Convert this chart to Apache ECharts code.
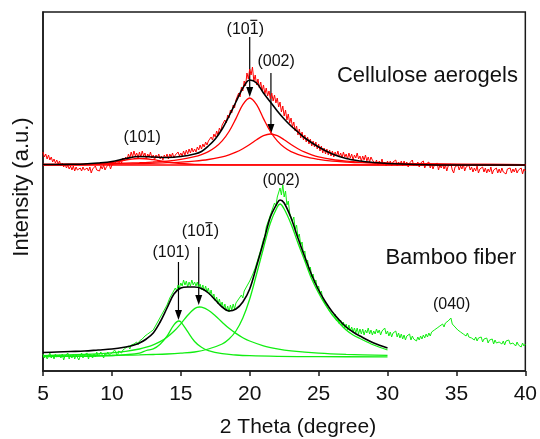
<!DOCTYPE html>
<html>
<head>
<meta charset="utf-8">
<script src="https://cdn.jsdelivr.net/npm/echarts@6/dist/echarts.min.js"></script>
<style>
  html, body { margin: 0; padding: 0; background: #fff; }
  #chart { width: 540px; height: 439px; }
</style>
</head>
<body>
<div id="chart"></div>
<script>
// ---- X axis (2θ, degree) ----
const xTicks = [5, 10, 15, 20, 25, 30, 35, 40];

// ---- Measured patterns: intensity every 0.1° from 5° to 40° ----
const rawStart = 5;
const rawStep = 0.1;

const aerogelRaw = [
  219,214,217,212,216,211,214,209,212,208,211,
  207,210,205,208,204,207,203,206,202,205,
  201,205,200,204,201,199,203,200,204,201,
  199,203,200,204,198,202,200,205,201,203,
  200,205,202,206,201,204,203,207,202,206,
  204,208,206,210,207,211,208,213,210,214,
  211,217,213,219,214,220,215,218,213,219,
  214,220,215,218,212,217,214,219,213,216,
  211,216,213,217,212,215,211,216,213,217,
  212,217,214,218,213,216,214,219,215,218,
  215,220,216,221,217,222,218,223,219,222,
  219,224,221,226,222,227,224,229,226,230,
  228,234,231,237,234,240,236,243,240,246,
  244,251,248,256,253,261,258,266,263,271,
  269,278,274,284,280,290,285,298,292,302,
  296,304,290,296,286,292,283,289,280,286,
  277,283,275,280,272,278,270,276,268,273,
  264,269,259,265,255,261,251,257,248,253,
  244,249,240,245,236,242,233,239,231,236,
  229,234,227,232,225,230,224,229,222,227,
  220,225,218,223,217,222,216,221,215,220,
  214,219,215,220,214,218,213,219,214,217,
  212,218,213,217,211,216,213,218,212,215,
  210,215,211,216,210,214,209,214,211,213,
  207,211,206,210,207,212,206,209,205,210,
  206,210,205,209,207,211,205,209,206,210,
  205,210,206,209,204,208,206,211,205,208,
  205,209,204,208,206,210,203,207,205,209,
  203,207,202,206,204,208,201,206,203,207,
  202,206,200,205,203,207,201,198,204,202,
  206,201,205,202,207,200,204,203,206,201,
  204,199,203,200,205,198,202,200,204,199,
  203,198,202,199,204,197,201,199,203,198,
  202,198,203,199,201,197,202,200,203,198,
  202,199,203,198,201,200,203,197,202,200
];

const bambooRaw = [
  17,13,16,12,15,18,13,16,12,17,14,
  12,16,13,17,11,15,14,18,12,16,
  13,17,12,16,14,11,15,18,13,16,
  14,18,12,17,15,13,17,14,19,15,
  14,19,16,13,18,15,19,16,14,18,
  17,21,18,15,20,22,18,21,19,23,
  21,25,22,26,24,27,25,29,26,30,
  29,32,30,35,33,37,35,39,37,41,
  42,46,45,51,50,56,55,61,60,66,
  67,73,71,78,76,83,80,86,83,88,
  85,91,86,90,84,89,85,91,86,89,
  85,89,83,87,81,86,80,85,79,83,
  76,81,73,77,70,74,67,72,65,69,
  62,67,60,65,59,66,61,67,62,68,
  66,72,70,76,73,80,78,85,83,90,
  88,96,95,103,103,112,112,121,122,132,
  135,144,143,152,152,160,159,168,165,174,
  172,183,176,186,174,180,166,170,158,160,
  150,154,142,146,134,137,126,129,117,120,
  108,111,101,104,94,97,88,91,82,85,
  77,80,72,74,67,69,62,64,58,60,
  54,57,50,53,47,51,45,49,43,47,
  41,46,40,44,39,43,38,43,37,42,
  37,42,36,41,38,43,37,41,36,40,
  37,42,38,41,36,40,38,43,37,40,
  35,39,34,38,36,40,34,38,33,37,
  32,36,31,35,33,37,31,35,32,34,
  30,34,31,35,32,36,33,37,34,38,
  35,39,37,41,39,43,41,45,43,47,
  44,48,46,50,48,53,47,49,44,45,
  41,43,39,41,37,39,35,38,34,36,
  33,35,31,34,30,33,31,34,29,32,
  30,33,28,31,29,32,27,31,28,30,
  29,31,27,30,26,30,28,31,27,29,
  28,30,25,29,26,28,24,28,25,27
];

// ---- Cellulose aerogels: peak fit ----
const aerogelFit = [
  [5,206.5],[6,206.5],[7,206.7],[8,207],[9,208],[10,209.5],[11,212.5],[12,214.5],
  [13,214],[14,213.5],[15,214.5],[16,217],[16.5,219.5],[17,225],[17.5,232],[18,242],
  [18.5,255],[19,269],[19.5,283],[20,291],[20.5,288],[21,278],[21.5,269],[22,260],
  [22.5,252],[23,245],[23.5,239],[24,233],[25,224],[26,217],[27,212.5],[28,210],
  [29,208.5],[30,207.5],[32,206.5],[35,206],[40,206]
];
const aerogelBase = [[5,206],[40,206]];
const aerogelPeak101 = [
  [5,206],[8,206.2],[9,206.8],[10,208.5],[11,211],[12,212.5],[13,211.3],[14,209],
  [15,207.5],[16,206.6],[18,206.1],[40,206]
];
const aerogelPeak10m1 = [
  [5,206.7],[8,207],[10,207.5],[12,208.3],[13,209],[14,209.9],[15,211.6],[16,214.3],
  [16.5,216.4],[17,219.4],[17.5,223.7],[18,230.1],[18.5,239.5],[19,252.4],[19.5,266.3],
  [20,273],[20.5,266.3],[21,252.4],[21.5,239.5],[22,230.1],[22.5,223.7],[23,219.4],
  [24,214.3],[25,211.6],[26,209.9],[27,209],[28,208.3],[30,207.5],[33,207],[35,206.7],[40,206.4]
];
const aerogelPeak002 = [
  [5,206.5],[8,206.7],[10,207],[12,207.4],[14,208.3],[15,208.9],[16,209.9],[17,211.5],
  [18,214.2],[18.5,216.2],[19,218.8],[19.5,222.3],[20,226.5],[20.5,231.3],[21,235.3],
  [21.5,237],[22,235.3],[22.5,231.3],[23,226.5],[23.5,222.3],[24,218.8],[24.5,216.2],
  [25,214.2],[26,211.5],[27,209.9],[28,208.9],[30,207.8],[33,207],[36,206.6],[40,206.4]
];

// ---- Bamboo fiber: peak fit ----
const bambooFit = [
  [5,18.5],[6,19],[7,19.5],[8,20],[9,21],[10,22],[11,24],[11.5,25.5],[12,28],[12.5,32],
  [13,38],[13.5,49],[14,63],[14.5,77],[15,83],[15.5,84],[16,84],[16.5,82.5],[17,78],
  [17.5,71],[18,64],[18.5,60],[19,62],[19.5,69],[20,82],[20.5,105],[21,129],[21.5,154],
  [22,168],[22.2,171],[22.5,168],[23,153],[23.5,133],[24,114],[24.5,96],[25,81],
  [25.5,69],[26,59],[26.5,51],[27,44],[27.5,39],[28,35],[29,28],[30,23]
];
const bambooPeak101 = [
  [5,14.4],[8,14.7],[10,15.5],[11,16.3],[12,17.9],[12.5,20.5],[13,22.1],[13.5,26.8],
  [14,34.9],[14.5,46.1],[14.85,50],[15,49.2],[15.5,39.3],[16,29.5],[16.5,23.7],[17,20.4],
  [18,17.3],[19,16],[20,15.3],[22,14.7],[25,14.3],[30,14.2]
];
const bambooPeak10m1 = [
  [5,15.4],[8,16.5],[10,18.1],[11,19.6],[12,22],[12.5,23.8],[13,26.2],[13.5,29.4],
  [14,33.8],[14.5,39.7],[15,47.2],[15.5,55.7],[16,62.4],[16.35,64],[16.5,63.8],[17,60.8],
  [17.5,55.3],[18,48.8],[18.5,42.7],[19,37.6],[19.5,33.3],[20,30],[21,25.2],[22,22.2],
  [23,20.2],[25,17.85],[27,16.6],[30,15.6]
];
const bambooPeak002 = [
  [5,14.7],[8,15.1],[10,15.5],[11,15.8],[12,16.1],[13,16.5],[14,17],[15,17.8],[16,19],
  [17,22],[18,27],[18.5,32],[19,40],[19.5,53],[20,72],[20.5,97],[21,123],[21.5,148],
  [22,164],[22.2,167],[22.5,162],[23,147],[23.5,128],[24,110],[24.5,92],[25,78],[25.5,66],
  [26,56],[26.5,48],[27,41],[27.5,36],[28,32.5],[29,26],[30,21]
];

// ---- Drawing ----
const FONT = '"Liberation Sans", Arial, Helvetica, sans-serif';
const RED = '#ff0000';
const GREEN = '#11ee11';

function rawPairs(values) {
  return values.map((v, i) => [+(rawStart + i * rawStep).toFixed(2), v]);
}

function curve(name, data, color, width, z) {
  return {
    name: name, type: 'line', data: data, showSymbol: false, symbol: 'none',
    smooth: 0.35, z: z, silent: true, animation: false,
    lineStyle: { color: color, width: width }
  };
}

function rawCurve(name, data, color) {
  return {
    name: name, type: 'line', data: data, showSymbol: false, symbol: 'none',
    sampling: null, z: 2, silent: true, animation: false,
    lineStyle: { color: color, width: 1 }
  };
}

const chart = echarts.init(document.getElementById('chart'), null, { renderer: 'canvas' });

chart.setOption({
  animation: false,
  backgroundColor: '#fff',
  grid: {
    left: 43, right: 13, top: 12, bottom: 68,
    show: true, borderColor: '#1a1a1a', borderWidth: 1.5, backgroundColor: 'transparent'
  },
  xAxis: {
    type: 'value', min: xTicks[0], max: xTicks[xTicks.length - 1], interval: 5,
    axisLine: { show: true, lineStyle: { color: '#1a1a1a', width: 1.5 } },
    axisTick: { show: true, inside: false, length: 5, lineStyle: { color: '#1a1a1a', width: 1.5 } },
    axisLabel: { color: '#111', fontSize: 21, fontFamily: FONT, margin: 13 },
    splitLine: { show: false }
  },
  yAxis: {
    type: 'value', min: 0, max: 359,
    axisLine: { show: true, lineStyle: { color: '#1a1a1a', width: 1.5 } },
    axisTick: { show: false },
    axisLabel: { show: false },
    splitLine: { show: false }
  },
  series: [
    rawCurve('aerogel measured', rawPairs(aerogelRaw), RED),
    rawCurve('bamboo measured', rawPairs(bambooRaw), GREEN),
    curve('aerogel baseline', aerogelBase, RED, 1.3, 4),
    curve('aerogel (101)', aerogelPeak101, RED, 1.3, 4),
    curve('aerogel (10-1)', aerogelPeak10m1, RED, 1.3, 4),
    curve('aerogel (002)', aerogelPeak002, RED, 1.3, 4),
    curve('bamboo (101)', bambooPeak101, GREEN, 1.3, 4),
    curve('bamboo (10-1)', bambooPeak10m1, GREEN, 1.3, 4),
    curve('bamboo (002)', bambooPeak002, GREEN, 1.3, 4),
    curve('aerogel fit', aerogelFit, '#000', 1.6, 6),
    curve('bamboo fit', bambooFit, '#000', 1.6, 6)
  ]
});

// Peak labels, arrows and sample names, anchored in data coordinates
const labels = [
  { text: '(101)', at: [12.19, 233], size: 16 },
  { text: '(101)', at: [19.68, 341.7], size: 16, bar: true },
  { text: '(002)', at: [21.92, 309], size: 16 },
  { text: '(101)', at: [14.3, 118.3], size: 16 },
  { text: '(101)', at: [16.42, 139.3], size: 16, bar: true },
  { text: '(002)', at: [22.28, 190.5], size: 16 },
  { text: '(040)', at: [34.65, 66], size: 16 }
];
const arrowList = [
  [20, 334, 274], [21.54, 298, 237],
  [14.83, 109, 51], [16.3, 124, 66]
];
const names = [
  { text: 'Cellulose aerogels', at: [26.33, 295], size: 22 },
  { text: 'Bamboo fiber', at: [29.85, 113], size: 22 }
];

const graphics = [];
const toPx = c => chart.convertToPixel({ gridIndex: 0 }, c);

labels.forEach(l => {
  const p = toPx(l.at);
  graphics.push({
    type: 'text', x: p[0], y: p[1], silent: true,
    style: { text: l.text, font: l.size + 'px ' + FONT, fill: '#111',
             align: 'center', verticalAlign: 'middle',
             textAlign: 'center', textVerticalAlign: 'middle' }
  });
  if (l.bar) {
    // bar over the last index: (1 0 1̄)
    graphics.push({
      type: 'line', silent: true,
      shape: { x1: p[0] + 5, y1: p[1] - 9, x2: p[0] + 12, y2: p[1] - 9 },
      style: { stroke: '#111', lineWidth: 1.2 }
    });
  }
});

arrowList.forEach(a => {
  const top = toPx([a[0], a[1]]);
  const tip = toPx([a[0], a[2]]);
  graphics.push({
    type: 'line', silent: true,
    shape: { x1: top[0], y1: top[1], x2: tip[0], y2: tip[1] - 8 },
    style: { stroke: '#000', lineWidth: 1.2 }
  });
  graphics.push({
    type: 'polygon', silent: true,
    shape: { points: [[tip[0] - 3.5, tip[1] - 10], [tip[0] + 3.5, tip[1] - 10], [tip[0], tip[1]]] },
    style: { fill: '#000' }
  });
});

names.forEach(n => {
  const p = toPx(n.at);
  graphics.push({
    type: 'text', x: p[0], y: p[1], silent: true,
    style: { text: n.text, font: n.size + 'px ' + FONT, fill: '#111',
             align: 'left', verticalAlign: 'middle',
             textAlign: 'left', textVerticalAlign: 'middle' }
  });
});

// Axis titles
graphics.push({
  type: 'text', x: 298, y: 427, silent: true,
  style: { text: '2 Theta (degree)', font: '21px ' + FONT, fill: '#111',
           align: 'center', verticalAlign: 'middle', textAlign: 'center', textVerticalAlign: 'middle' }
});
graphics.push({
  type: 'text', x: 22, y: 187, rotation: Math.PI / 2, silent: true,
  style: { text: 'Intensity (a.u.)', font: '22px ' + FONT, fill: '#111',
           align: 'center', verticalAlign: 'middle', textAlign: 'center', textVerticalAlign: 'middle' }
});

chart.setOption({ graphic: { elements: graphics } });
</script>
</body>
</html>
